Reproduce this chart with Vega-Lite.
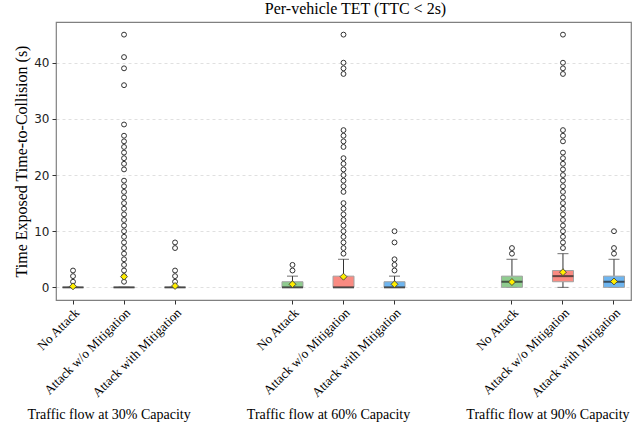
{
  "$schema": "https://vega.github.io/schema/vega-lite/v6.json",
  "width": 575,
  "height": 278,
  "autosize": {"type": "none"},
  "padding": {"left": 56, "top": 22, "right": 13, "bottom": 132},
  "title": {"text": "Per-vehicle TET (TTC < 2s)", "font": "Liberation Serif", "fontSize": 16, "fontWeight": "normal", "color": "#000000", "dx": 12, "offset": 5},
  "config": {
    "view": {"stroke": "#808080", "strokeWidth": 1.2},
    "background": "#ffffff"
  },
  "datasets": {
    "boxes": [
      {"group": "30%", "condition": "No Attack", "lower": 0, "q1": 0, "median": 0, "q3": 0, "upper": 0, "mean": 0.18},
      {"group": "30%", "condition": "Attack w/o Mitigation", "lower": 0, "q1": 0, "median": 0, "q3": 0, "upper": 0, "mean": 1.9},
      {"group": "30%", "condition": "Attack with Mitigation", "lower": 0, "q1": 0, "median": 0, "q3": 0, "upper": 0, "mean": 0.25},
      {"group": "60%", "condition": "No Attack", "lower": 0, "q1": 0, "median": 0, "q3": 1, "upper": 2, "mean": 0.55},
      {"group": "60%", "condition": "Attack w/o Mitigation", "lower": 0, "q1": 0, "median": 0, "q3": 2, "upper": 5, "mean": 1.9},
      {"group": "60%", "condition": "Attack with Mitigation", "lower": 0, "q1": 0, "median": 0, "q3": 1, "upper": 2, "mean": 0.55},
      {"group": "90%", "condition": "No Attack", "lower": 0, "q1": 0, "median": 1, "q3": 2, "upper": 5, "mean": 0.95},
      {"group": "90%", "condition": "Attack w/o Mitigation", "lower": 0, "q1": 1, "median": 2, "q3": 3, "upper": 6, "mean": 2.7},
      {"group": "90%", "condition": "Attack with Mitigation", "lower": 0, "q1": 0, "median": 1, "q3": 2, "upper": 5, "mean": 1.05}
    ],
    "outliers": [
      {"group": "30%", "condition": "No Attack", "value": 1},
      {"group": "30%", "condition": "No Attack", "value": 2},
      {"group": "30%", "condition": "No Attack", "value": 3},
      {"group": "30%", "condition": "Attack w/o Mitigation", "value": 1},
      {"group": "30%", "condition": "Attack w/o Mitigation", "value": 2},
      {"group": "30%", "condition": "Attack w/o Mitigation", "value": 3},
      {"group": "30%", "condition": "Attack w/o Mitigation", "value": 4},
      {"group": "30%", "condition": "Attack w/o Mitigation", "value": 5},
      {"group": "30%", "condition": "Attack w/o Mitigation", "value": 6},
      {"group": "30%", "condition": "Attack w/o Mitigation", "value": 7},
      {"group": "30%", "condition": "Attack w/o Mitigation", "value": 8},
      {"group": "30%", "condition": "Attack w/o Mitigation", "value": 9},
      {"group": "30%", "condition": "Attack w/o Mitigation", "value": 10},
      {"group": "30%", "condition": "Attack w/o Mitigation", "value": 11},
      {"group": "30%", "condition": "Attack w/o Mitigation", "value": 12},
      {"group": "30%", "condition": "Attack w/o Mitigation", "value": 13},
      {"group": "30%", "condition": "Attack w/o Mitigation", "value": 14},
      {"group": "30%", "condition": "Attack w/o Mitigation", "value": 15},
      {"group": "30%", "condition": "Attack w/o Mitigation", "value": 16},
      {"group": "30%", "condition": "Attack w/o Mitigation", "value": 17},
      {"group": "30%", "condition": "Attack w/o Mitigation", "value": 18},
      {"group": "30%", "condition": "Attack w/o Mitigation", "value": 19},
      {"group": "30%", "condition": "Attack w/o Mitigation", "value": 21},
      {"group": "30%", "condition": "Attack w/o Mitigation", "value": 22},
      {"group": "30%", "condition": "Attack w/o Mitigation", "value": 23},
      {"group": "30%", "condition": "Attack w/o Mitigation", "value": 24},
      {"group": "30%", "condition": "Attack w/o Mitigation", "value": 25},
      {"group": "30%", "condition": "Attack w/o Mitigation", "value": 26},
      {"group": "30%", "condition": "Attack w/o Mitigation", "value": 27},
      {"group": "30%", "condition": "Attack w/o Mitigation", "value": 29},
      {"group": "30%", "condition": "Attack w/o Mitigation", "value": 36},
      {"group": "30%", "condition": "Attack w/o Mitigation", "value": 39},
      {"group": "30%", "condition": "Attack w/o Mitigation", "value": 41},
      {"group": "30%", "condition": "Attack w/o Mitigation", "value": 45},
      {"group": "30%", "condition": "Attack with Mitigation", "value": 1},
      {"group": "30%", "condition": "Attack with Mitigation", "value": 2},
      {"group": "30%", "condition": "Attack with Mitigation", "value": 3},
      {"group": "30%", "condition": "Attack with Mitigation", "value": 7},
      {"group": "30%", "condition": "Attack with Mitigation", "value": 8},
      {"group": "60%", "condition": "No Attack", "value": 3},
      {"group": "60%", "condition": "No Attack", "value": 4},
      {"group": "60%", "condition": "Attack w/o Mitigation", "value": 6},
      {"group": "60%", "condition": "Attack w/o Mitigation", "value": 7},
      {"group": "60%", "condition": "Attack w/o Mitigation", "value": 8},
      {"group": "60%", "condition": "Attack w/o Mitigation", "value": 9},
      {"group": "60%", "condition": "Attack w/o Mitigation", "value": 10},
      {"group": "60%", "condition": "Attack w/o Mitigation", "value": 11},
      {"group": "60%", "condition": "Attack w/o Mitigation", "value": 12},
      {"group": "60%", "condition": "Attack w/o Mitigation", "value": 13},
      {"group": "60%", "condition": "Attack w/o Mitigation", "value": 14},
      {"group": "60%", "condition": "Attack w/o Mitigation", "value": 15},
      {"group": "60%", "condition": "Attack w/o Mitigation", "value": 17},
      {"group": "60%", "condition": "Attack w/o Mitigation", "value": 18},
      {"group": "60%", "condition": "Attack w/o Mitigation", "value": 19},
      {"group": "60%", "condition": "Attack w/o Mitigation", "value": 20},
      {"group": "60%", "condition": "Attack w/o Mitigation", "value": 21},
      {"group": "60%", "condition": "Attack w/o Mitigation", "value": 22},
      {"group": "60%", "condition": "Attack w/o Mitigation", "value": 23},
      {"group": "60%", "condition": "Attack w/o Mitigation", "value": 25},
      {"group": "60%", "condition": "Attack w/o Mitigation", "value": 26},
      {"group": "60%", "condition": "Attack w/o Mitigation", "value": 27},
      {"group": "60%", "condition": "Attack w/o Mitigation", "value": 28},
      {"group": "60%", "condition": "Attack w/o Mitigation", "value": 38},
      {"group": "60%", "condition": "Attack w/o Mitigation", "value": 39},
      {"group": "60%", "condition": "Attack w/o Mitigation", "value": 40},
      {"group": "60%", "condition": "Attack w/o Mitigation", "value": 45},
      {"group": "60%", "condition": "Attack with Mitigation", "value": 3},
      {"group": "60%", "condition": "Attack with Mitigation", "value": 4},
      {"group": "60%", "condition": "Attack with Mitigation", "value": 5},
      {"group": "60%", "condition": "Attack with Mitigation", "value": 8},
      {"group": "60%", "condition": "Attack with Mitigation", "value": 10},
      {"group": "90%", "condition": "No Attack", "value": 6},
      {"group": "90%", "condition": "No Attack", "value": 7},
      {"group": "90%", "condition": "Attack w/o Mitigation", "value": 7},
      {"group": "90%", "condition": "Attack w/o Mitigation", "value": 8},
      {"group": "90%", "condition": "Attack w/o Mitigation", "value": 9},
      {"group": "90%", "condition": "Attack w/o Mitigation", "value": 10},
      {"group": "90%", "condition": "Attack w/o Mitigation", "value": 11},
      {"group": "90%", "condition": "Attack w/o Mitigation", "value": 12},
      {"group": "90%", "condition": "Attack w/o Mitigation", "value": 13},
      {"group": "90%", "condition": "Attack w/o Mitigation", "value": 14},
      {"group": "90%", "condition": "Attack w/o Mitigation", "value": 15},
      {"group": "90%", "condition": "Attack w/o Mitigation", "value": 16},
      {"group": "90%", "condition": "Attack w/o Mitigation", "value": 17},
      {"group": "90%", "condition": "Attack w/o Mitigation", "value": 18},
      {"group": "90%", "condition": "Attack w/o Mitigation", "value": 19},
      {"group": "90%", "condition": "Attack w/o Mitigation", "value": 20},
      {"group": "90%", "condition": "Attack w/o Mitigation", "value": 21},
      {"group": "90%", "condition": "Attack w/o Mitigation", "value": 22},
      {"group": "90%", "condition": "Attack w/o Mitigation", "value": 23},
      {"group": "90%", "condition": "Attack w/o Mitigation", "value": 24},
      {"group": "90%", "condition": "Attack w/o Mitigation", "value": 26},
      {"group": "90%", "condition": "Attack w/o Mitigation", "value": 27},
      {"group": "90%", "condition": "Attack w/o Mitigation", "value": 28},
      {"group": "90%", "condition": "Attack w/o Mitigation", "value": 38},
      {"group": "90%", "condition": "Attack w/o Mitigation", "value": 39},
      {"group": "90%", "condition": "Attack w/o Mitigation", "value": 40},
      {"group": "90%", "condition": "Attack w/o Mitigation", "value": 45},
      {"group": "90%", "condition": "Attack with Mitigation", "value": 6},
      {"group": "90%", "condition": "Attack with Mitigation", "value": 7},
      {"group": "90%", "condition": "Attack with Mitigation", "value": 10}
    ]
  },
  "layer": [
    {
      "encoding": {
        "x": {
          "field": "group", "type": "nominal",
          "scale": {"domain": ["30%", "60%", "90%"], "paddingInner": 0.38, "paddingOuter": 0},
          "axis": {"orient": "bottom", "title": null, "domain": false, "ticks": false, "grid": false, "labelAngle": 0, "labelFont": "Liberation Serif", "labelFontSize": 14, "labelColor": "#000000", "labelPadding": 107, "labelOffset": -15, "labelLimit": 400, "labelExpr": "'Traffic flow at ' + datum.label + ' Capacity'"}
        },
        "xOffset": {
          "field": "condition", "type": "nominal",
          "scale": {"domain": ["No Attack", "Attack w/o Mitigation", "Attack with Mitigation"], "paddingInner": 0.333, "paddingOuter": 0}
        }
      },
      "layer": [
        {
          "data": {"name": "boxes"},
          "mark": {"type": "rule", "color": "#333333", "strokeWidth": 1},
          "encoding": {
            "y": {"field": "q3", "type": "quantitative", "scale": {"domain": [-2.25, 47.25], "nice": false, "zero": false},
              "axis": {"title": "Time Exposed Time-to-Collision (s)", "values": [0, 10, 20, 30, 40], "grid": true, "gridDash": [3, 3], "gridColor": "#e0e0e0", "domain": false, "tickSize": 4, "tickColor": "#333333", "labelFont": "DejaVu Sans", "labelFontSize": 12, "labelColor": "#222222", "labelPadding": 3, "titleFont": "Liberation Serif", "titleFontSize": 16, "titleFontWeight": "normal", "titleColor": "#000000", "titlePadding": 4}},
            "y2": {"field": "upper"}
          }
        },
        {
          "data": {"name": "boxes"},
          "mark": {"type": "rule", "color": "#333333", "strokeWidth": 1},
          "encoding": {
            "y": {"field": "lower", "type": "quantitative", "scale": {"domain": [-2.25, 47.25], "nice": false, "zero": false}},
            "y2": {"field": "q1"}
          }
        },
        {
          "data": {"name": "boxes"},
          "mark": {"type": "tick", "size": 11, "thickness": 1, "color": "#333333"},
          "encoding": {
            "y": {"field": "upper", "type": "quantitative", "scale": {"domain": [-2.25, 47.25], "nice": false, "zero": false}}
          }
        },
        {
          "data": {"name": "boxes"},
          "mark": {"type": "tick", "size": 11, "thickness": 1, "color": "#333333"},
          "encoding": {
            "y": {"field": "lower", "type": "quantitative", "scale": {"domain": [-2.25, 47.25], "nice": false, "zero": false}}
          }
        },
        {
          "data": {"name": "boxes"},
          "mark": {"type": "bar", "width": 21, "stroke": "#a3a3a3", "strokeWidth": 1, "opacity": 1},
          "encoding": {
            "y": {"field": "q1", "type": "quantitative", "scale": {"domain": [-2.25, 47.25], "nice": false, "zero": false}},
            "y2": {"field": "q3"},
            "fill": {"field": "condition", "type": "nominal", "scale": {"domain": ["No Attack", "Attack w/o Mitigation", "Attack with Mitigation"], "range": ["#8fcc8f", "#f98b82", "#6db5f0"]}, "legend": null}
          }
        },
        {
          "data": {"name": "boxes"},
          "mark": {"type": "tick", "size": 21, "thickness": 2, "color": "#222222"},
          "encoding": {
            "y": {"field": "median", "type": "quantitative", "scale": {"domain": [-2.25, 47.25], "nice": false, "zero": false}}
          }
        },
        {
          "data": {"name": "outliers"},
          "mark": {"type": "point", "shape": "circle", "size": 24, "filled": true, "fill": "#ffffff", "stroke": "#333333", "strokeWidth": 1, "opacity": 1},
          "encoding": {
            "y": {"field": "value", "type": "quantitative", "scale": {"domain": [-2.25, 47.25], "nice": false, "zero": false}}
          }
        },
        {
          "data": {"name": "boxes"},
          "mark": {"type": "point", "shape": "diamond", "size": 48, "filled": true, "fill": "#ffee00", "stroke": "#333333", "strokeWidth": 0.8, "opacity": 1},
          "encoding": {
            "y": {"field": "mean", "type": "quantitative", "scale": {"domain": [-2.25, 47.25], "nice": false, "zero": false}}
          }
        }
      ]
    },
    {
      "data": {"name": "boxes"},
      "transform": [{"filter": "datum.group == '30%'"}],
      "mark": {"type": "point", "opacity": 0},
      "encoding": {
        "x": {"field": "condition", "type": "nominal",
          "scale": {"type": "band", "domain": ["No Attack", "Attack w/o Mitigation", "Attack with Mitigation"], "range": [0, 136.07], "paddingInner": 0.333, "paddingOuter": 0},
          "axis": {"orient": "bottom", "title": null, "domain": false, "grid": false, "tickSize": 4, "tickColor": "#333333", "labelAngle": -45, "labelFont": "Liberation Serif", "labelFontSize": 13, "labelColor": "#000000", "labelPadding": 2, "labelLimit": 200}}
      }
    },
    {
      "data": {"name": "boxes"},
      "transform": [{"filter": "datum.group == '60%'"}],
      "mark": {"type": "point", "opacity": 0},
      "encoding": {
        "x": {"field": "condition", "type": "nominal",
          "scale": {"type": "band", "domain": ["No Attack", "Attack w/o Mitigation", "Attack with Mitigation"], "range": [219.47, 355.54], "paddingInner": 0.333, "paddingOuter": 0},
          "axis": {"orient": "bottom", "title": null, "domain": false, "grid": false, "tickSize": 4, "tickColor": "#333333", "labelAngle": -45, "labelFont": "Liberation Serif", "labelFontSize": 13, "labelColor": "#000000", "labelPadding": 2, "labelLimit": 200}}
      }
    },
    {
      "data": {"name": "boxes"},
      "transform": [{"filter": "datum.group == '90%'"}],
      "mark": {"type": "point", "opacity": 0},
      "encoding": {
        "x": {"field": "condition", "type": "nominal",
          "scale": {"type": "band", "domain": ["No Attack", "Attack w/o Mitigation", "Attack with Mitigation"], "range": [438.93, 575], "paddingInner": 0.333, "paddingOuter": 0},
          "axis": {"orient": "bottom", "title": null, "domain": false, "grid": false, "tickSize": 4, "tickColor": "#333333", "labelAngle": -45, "labelFont": "Liberation Serif", "labelFontSize": 13, "labelColor": "#000000", "labelPadding": 2, "labelLimit": 200}}
      }
    }
  ],
  "resolve": {"scale": {"x": "independent"}, "axis": {"x": "independent"}}
}
